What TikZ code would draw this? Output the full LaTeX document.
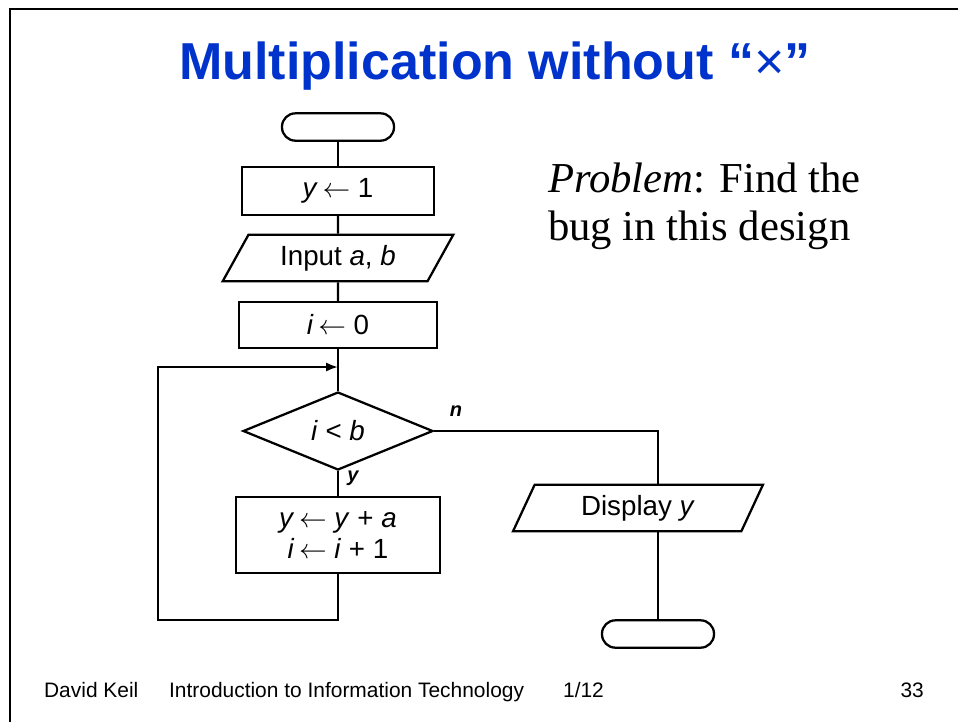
\documentclass[tikz,border=0pt]{standalone}
\usepackage{fontspec}
\setmainfont{Liberation Sans}
\newfontfamily\timesface{Liberation Serif}
\usetikzlibrary{shapes.geometric,arrows.meta}
\definecolor{titleblue}{RGB}{0,51,204}

\tikzset{
  flow/.style={draw, line width=1.7pt, inner sep=0pt, font=\fontsize{20.8}{23.5}\selectfont},
  terminal/.style={flow, rectangle, rounded corners=10pt, minimum width=84pt, minimum height=20.5pt},
  process/.style={flow, rectangle},
  inout/.style={flow, trapezium, trapezium stretches body=true, minimum height=35pt},
  decision/.style={flow, diamond},
  branch/.style={font=\fontsize{15}{18}\selectfont\bfseries\itshape, inner sep=0pt},
  footer/.style={font=\fontsize{15.7}{18}\selectfont, inner sep=0pt, anchor=base west}
}

\begin{document}
\begin{tikzpicture}[x=0.75pt, y=-0.75pt, line width=1.7pt]
  \useasboundingbox (0,0) rectangle (958,722);
  \draw[line width=2.2pt] (10,722) -- (10,9) -- (958,9);

  % title and remark
  \node[anchor=base, inner sep=0pt, text=titleblue, font=\fontsize{39}{44}\selectfont] (title) at (495,79)
    {\textbf{Multiplication without “}×\textbf{”}};
  \node[anchor=base west, inner sep=0pt, align=left, font=\timesface\fontsize{32}{36}\selectfont] (remark) at (547,240)
    {\textit{Problem}: Find the\\bug in this design};

  % flowchart
  \node[terminal] (start) at (338,127) {};
  \node[process, minimum width=144pt, minimum height=36pt] (sety) at (338,191) {\textit{y}\,$\leftarrow$ 1};
  \node[inout, trapezium left angle=45, trapezium right angle=135, minimum width=173pt] (input) at (338,258) {Input \textit{a}, \textit{b}};
  \node[process, minimum width=148.5pt, minimum height=34.5pt] (seti) at (338,325) {\textit{i}\,$\leftarrow$ 0};
  \node[decision, minimum width=142.5pt, minimum height=58.5pt] (test) at (338,431) {\textit{i} < \textit{b}};
  \node[process, minimum width=153pt, minimum height=57pt, align=center] (body) at (338,535)
    {\textit{y}\,$\leftarrow$ \textit{y} + \textit{a}\\\textit{i}\,$\leftarrow$ \textit{i} + 1};
  \node[inout, trapezium left angle=50, trapezium right angle=130, minimum width=187.5pt] (disp) at (638,508) {Display \textit{y}};
  \node[terminal] (stop) at (658,634) {};

  \coordinate (join) at (338,367);
  \coordinate (loopcorner) at (158,620);

  \draw (start) -- (sety);
  \draw (sety) -- (input);
  \draw (input) -- (seti);
  \draw (seti) -- (test);
  \draw (test) -- (body);
  \draw[-{Latex[length=9pt,width=7pt]}] (body.south) |- (loopcorner) |- (join);
  \draw (test.east) -| (disp.north -| stop);
  \draw (disp.south -| stop) -- (stop.north);
  \node[branch] (yes) at (353,478) {y};
  \node[branch] (no) at (456,411) {n};

  % footer
  \node[footer] (author) at (43,697) {David Keil};
  \node[footer] (course) at (168,697) {Introduction to Information Technology};
  \node[footer] (date) at (562,697) {1/12};
  \node[footer, anchor=base east] (page) at (925,697) {33};
\end{tikzpicture}
\end{document}
